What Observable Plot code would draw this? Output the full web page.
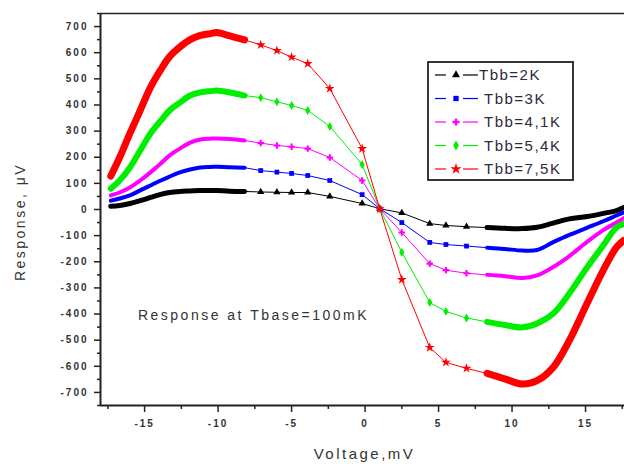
<!DOCTYPE html>
<html><head><meta charset="utf-8">
<script src="https://cdn.jsdelivr.net/npm/d3@7"></script>
<script src="https://cdn.jsdelivr.net/npm/@observablehq/plot@0.6"></script>
<style>body{margin:0;background:#fff;} svg{display:block;}</style>
</head><body><div id="chart"></div>
<script>
// ---- data ----
const voltage = [-17.3, -16.7, -16.0, -15.3, -14.6, -13.9, -13.3, -12.6, -11.9, -11.2, -10.5, -10.1, -9.2, -8.2, -7.1, -6.0, -5.0, -3.9, -2.4, -0.2, 1.0, 2.5, 4.4, 5.5, 6.9, 8.3, 9.5, 10.7, 11.7, 12.8, 13.9, 15.1, 16.2, 17.1, 17.6];
const tbb2K  = [12, 15, 23, 34, 46, 58, 65, 69, 71, 73, 73, 73, 70, 69, 67, 66, 65, 65, 50, 23, 3, -13, -54, -61, -66, -69, -72, -73, -68, -52, -36, -27, -15, -4, 8];
const tbb3K  = [34, 42, 54, 73, 92, 111, 126, 142, 153, 161, 163, 164, 162, 160, 149, 143, 138, 130, 111, 57, 3, -50, -126, -134, -140, -146, -151, -157, -155, -125, -97, -70, -45, -23, -11];
const tbb41K = [54, 65, 84, 111, 142, 176, 207, 233, 256, 268, 271, 272, 270, 264, 254, 245, 240, 233, 199, 111, 3, -88, -207, -232, -244, -250, -255, -262, -252, -220, -178, -124, -79, -50, -33];
const tbb54K = [80, 111, 161, 226, 291, 340, 379, 409, 436, 448, 453, 455, 448, 436, 428, 412, 398, 379, 318, 172, 3, -164, -356, -390, -415, -430, -442, -451, -436, -398, -321, -222, -138, -69, -55];
const tbb75K = [128, 199, 291, 379, 467, 535, 585, 622, 650, 666, 673, 677, 664, 649, 630, 608, 583, 558, 463, 233, 2, -268, -528, -585, -608, -627, -648, -668, -655, -604, -501, -360, -233, -145, -118];
const seriesNames = ["Tbb=2K", "Tbb=3K", "Tbb=4,1K", "Tbb=5,4K", "Tbb=7,5K"];
const seriesValues = [tbb2K, tbb3K, tbb41K, tbb54K, tbb75K];
const yTicks = d3.range(-700, 701, 100);
const yMinorTicks = d3.range(-750, 751, 100);
const xTicks = [-15, -10, -5, 0, 5, 10, 15];
const xMinorTicks = [-17.5, -12.5, -7.5, -2.5, 2.5, 7.5, 12.5, 17.5];
const annotation = "Response at Tbase=100mK";
const xLabel = "Voltage,mV";
const yLabel = "Response, \u03BCV";

// ---- styles ----
const colors = ["#000000", "#0000ff", "#ff00ff", "#00ee00", "#ff0000"];
const symbols = ["triangle", "square", "cross", "diamond", "star"];
const bandWidths = [5, 4, 4, 6, 7];

const rows = seriesNames.map((name, i) => voltage.map((v, j) => ({v, r: seriesValues[i][j], s: name})));

const marks = [];
// axes
marks.push(Plot.axisY(yMinorTicks, {tickSize: 3, tickFormat: () => "", label: null}));
marks.push(Plot.axisY(yTicks, {tickSize: 6, tickPadding: 6, tickFormat: d => String(d), fontSize: 10, label: null}));
marks.push(Plot.axisX(xMinorTicks, {tickSize: 4, tickFormat: () => "", label: null}));
marks.push(Plot.axisX(xTicks, {tickSize: 7, tickPadding: 7, tickFormat: d => String(d), fontSize: 10, label: null}));
marks.push(Plot.ruleX([-18], {stroke: "#222", strokeWidth: 2}));
marks.push(Plot.ruleY([-750], {stroke: "#222", strokeWidth: 2}));
marks.push(Plot.ruleY([750], {stroke: "#222", strokeWidth: 1.5}));

rows.forEach((data, i) => {
  marks.push(Plot.line(data, {x: "v", y: "r", stroke: colors[i], strokeWidth: 1}));
  const left = data.filter(d => d.v <= -8.2);
  const right = data.filter(d => d.v >= 8.3);
  for (const part of [left, right]) {
    marks.push(Plot.line(part, {x: "v", y: "r", stroke: colors[i], strokeWidth: bandWidths[i], strokeLinecap: "round", strokeLinejoin: "round", curve: "catmull-rom"}));
  }
  marks.push(Plot.dot(data.filter(d => d.v > -8.2 && d.v < 8.3), {x: "v", y: "r", symbol: symbols[i], fill: colors[i], r: i === 4 ? 3.1 : 2.7}));
});

marks.push(Plot.text([annotation], {frameAnchor: "top-left", dx: 153, dy: 297, textAnchor: "middle", fontSize: 14, fill: "#333"}));
marks.push(Plot.text([xLabel], {frameAnchor: "bottom", dx: 2, dy: 53, fontSize: 15, fill: "#333"}));

const chart = Plot.plot({
  width: 624, height: 464,
  marginLeft: 100, marginRight: 0, marginTop: 13, marginBottom: 59,
  x: {domain: [-18, 17.65]},
  y: {domain: [-750, 750]},
  style: {fontFamily: "Arial, 'Liberation Sans', sans-serif", background: "#fff", overflow: "visible"},
  marks
});
document.getElementById("chart").appendChild(chart);

const svg = d3.select(chart);
svg.selectAll('g[aria-label="y-axis tick label"] text, g[aria-label="x-axis tick label"] text')
  .attr("fill", "#333").style("letter-spacing", "2px").style("font-weight", "bold");
svg.selectAll('g[aria-label="y-axis tick"] path, g[aria-label="x-axis tick"] path').attr("stroke", "#222").attr("stroke-width", 1.5);
svg.selectAll('g[aria-label="text"] text').style("letter-spacing", "2.5px");

// y axis title
svg.append("text").attr("transform", "translate(20,222) rotate(-90)").attr("text-anchor", "middle")
  .attr("dy", "0.36em").attr("font-size", 14).attr("fill", "#333")
  .attr("font-family", "Arial, 'Liberation Sans', sans-serif").style("letter-spacing", "2.5px").text(yLabel);

// legend
const lg = svg.append("g").attr("font-family", "Arial, 'Liberation Sans', sans-serif").attr("text-anchor", "start");
lg.append("rect").attr("x", 428).attr("y", 62).attr("width", 145).attr("height", 118)
  .attr("fill", "#fff").attr("stroke", "#222").attr("stroke-width", 1.8);
const symMap = {triangle: d3.symbolTriangle, square: d3.symbolSquare, cross: d3.symbolCross, diamond: d3.symbolDiamond, star: d3.symbolStar};
seriesNames.forEach((name, i) => {
  const y = 75 + i * 23.5;
  lg.append("line").attr("x1", 435).attr("x2", 446).attr("y1", y).attr("y2", y).attr("stroke", colors[i]).attr("stroke-width", 1.2);
  lg.append("line").attr("x1", 463).attr("x2", 478).attr("y1", y).attr("y2", y).attr("stroke", colors[i]).attr("stroke-width", 1.2);
  lg.append("path").attr("d", d3.symbol(symMap[symbols[i]], i === 4 ? 40 : 28)()).attr("transform", `translate(456,${y})`).attr("fill", colors[i]);
  lg.append("text").attr("x", i === 0 ? 479 : 484).attr("y", y).attr("dy", "0.36em").attr("font-size", 15)
    .attr("text-anchor", "start").style("letter-spacing", "1.5px").attr("fill", "#2b2b3b").text(name);
});
</script></body></html>
